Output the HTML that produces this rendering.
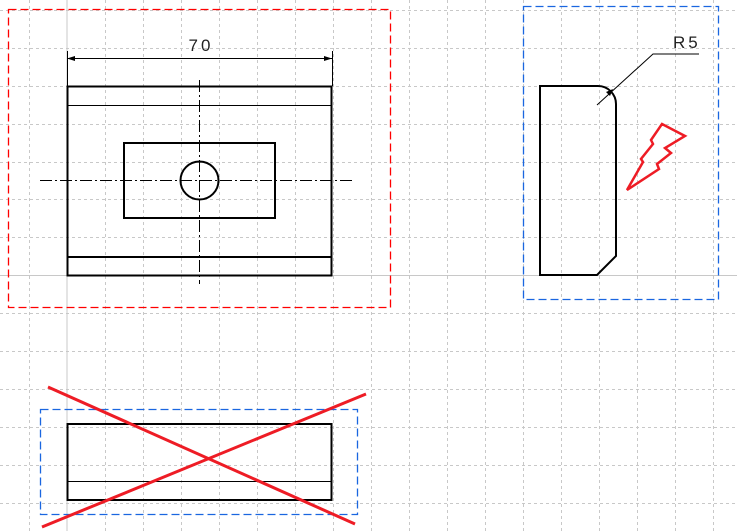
<!DOCTYPE html>
<html><head><style>html,body{margin:0;padding:0;background:#fff}svg{display:block}</style></head>
<body>
<svg width="737" height="531" viewBox="0 0 737 531" xmlns="http://www.w3.org/2000/svg">
<g stroke="#c8c8c8" stroke-width="1" stroke-dasharray="3,3">
<line x1="29.5" y1="0" x2="29.5" y2="531"/><line x1="105.5" y1="0" x2="105.5" y2="531"/><line x1="143.5" y1="0" x2="143.5" y2="531"/><line x1="181.5" y1="0" x2="181.5" y2="531"/><line x1="219.5" y1="0" x2="219.5" y2="531"/><line x1="257.5" y1="0" x2="257.5" y2="531"/><line x1="295.5" y1="0" x2="295.5" y2="531"/><line x1="333.5" y1="0" x2="333.5" y2="531"/><line x1="371.5" y1="0" x2="371.5" y2="531"/><line x1="409.5" y1="0" x2="409.5" y2="531"/><line x1="447.5" y1="0" x2="447.5" y2="531"/><line x1="485.5" y1="0" x2="485.5" y2="531"/><line x1="523.5" y1="0" x2="523.5" y2="531"/><line x1="561.5" y1="0" x2="561.5" y2="531"/><line x1="599.5" y1="0" x2="599.5" y2="531"/><line x1="637.5" y1="0" x2="637.5" y2="531"/><line x1="675.5" y1="0" x2="675.5" y2="531"/><line x1="713.5" y1="0" x2="713.5" y2="531"/>
<line x1="0" y1="10.5" x2="737" y2="10.5"/><line x1="0" y1="48.5" x2="737" y2="48.5"/><line x1="0" y1="86.5" x2="737" y2="86.5"/><line x1="0" y1="124.5" x2="737" y2="124.5"/><line x1="0" y1="162.5" x2="737" y2="162.5"/><line x1="0" y1="199.5" x2="737" y2="199.5"/><line x1="0" y1="237.5" x2="737" y2="237.5"/><line x1="0" y1="313.5" x2="737" y2="313.5"/><line x1="0" y1="351.5" x2="737" y2="351.5"/><line x1="0" y1="389.5" x2="737" y2="389.5"/><line x1="0" y1="427.5" x2="737" y2="427.5"/><line x1="0" y1="465.5" x2="737" y2="465.5"/><line x1="0" y1="503.5" x2="737" y2="503.5"/>
</g>
<g stroke="#c8c8c8" stroke-width="1"><line x1="67" y1="0" x2="67" y2="531"/><line x1="0" y1="275.5" x2="737" y2="275.5"/></g>
<rect x="8.5" y="9.5" width="382" height="298" fill="none" stroke="#f00" stroke-width="1.3" stroke-dasharray="8,4"/>
<rect x="523.5" y="6.5" width="195" height="293" fill="none" stroke="#1a66e0" stroke-width="1.3" stroke-dasharray="8,4"/>
<rect x="40.5" y="409.5" width="317" height="105" fill="none" stroke="#1a66e0" stroke-width="1.3" stroke-dasharray="8,4"/>
<g stroke="#000" fill="none">
<rect x="67.5" y="86.5" width="264" height="189" stroke-width="2"/>
<line x1="67" y1="105.5" x2="332" y2="105.5" stroke-width="1"/>
<line x1="67" y1="257" x2="332" y2="257" stroke-width="2"/>
<rect x="124" y="143" width="151" height="75" stroke-width="2"/>
<circle cx="199.5" cy="180.5" r="19" stroke-width="2"/>
<line x1="199.5" y1="80" x2="199.5" y2="284" stroke-dasharray="12,3,2,3" stroke-width="1"/>
<line x1="40" y1="180.5" x2="353" y2="180.5" stroke-dasharray="12,3,2,3" stroke-width="1"/>
<line x1="67.5" y1="51" x2="67.5" y2="86" stroke-width="1"/><line x1="332.5" y1="51" x2="332.5" y2="86" stroke-width="1"/>
<line x1="67" y1="58.5" x2="332" y2="58.5" stroke-width="1"/>
<path d="M540,86 H598 A18,18 0 0 1 616,104 V256 L597,275 H540 Z" stroke-width="2"/>
<polyline points="597,105 653,54 699,54" stroke-width="1"/>
<rect x="67.5" y="424" width="264" height="76" stroke-width="2"/>
<line x1="67" y1="481.5" x2="332" y2="481.5" stroke-width="1"/>
</g>
<path d="M67,58.5 l8,-2.5 v5 z M332,58.5 l-8,-2.5 v5 z M613,89 l-7,3 4,4 z" fill="#000"/>
<text x="201" y="51" font-family="Liberation Sans, sans-serif" font-size="17" text-anchor="middle" letter-spacing="3" fill="#222">70</text>
<text x="673" y="48" font-family="Liberation Sans, sans-serif" font-size="17" letter-spacing="3" fill="#222">R5</text>
<polygon points="662,124 685,136 665,148 671,153 657,164 659,169 627,190 643,162 641,159 653,144 651,140" fill="none" stroke="#ee1c25" stroke-width="2.5"/>
<g stroke="#ee1c25" stroke-width="3"><line x1="48" y1="387" x2="355" y2="524"/><line x1="42" y1="527" x2="366" y2="394"/></g>
</svg>
</body></html>
